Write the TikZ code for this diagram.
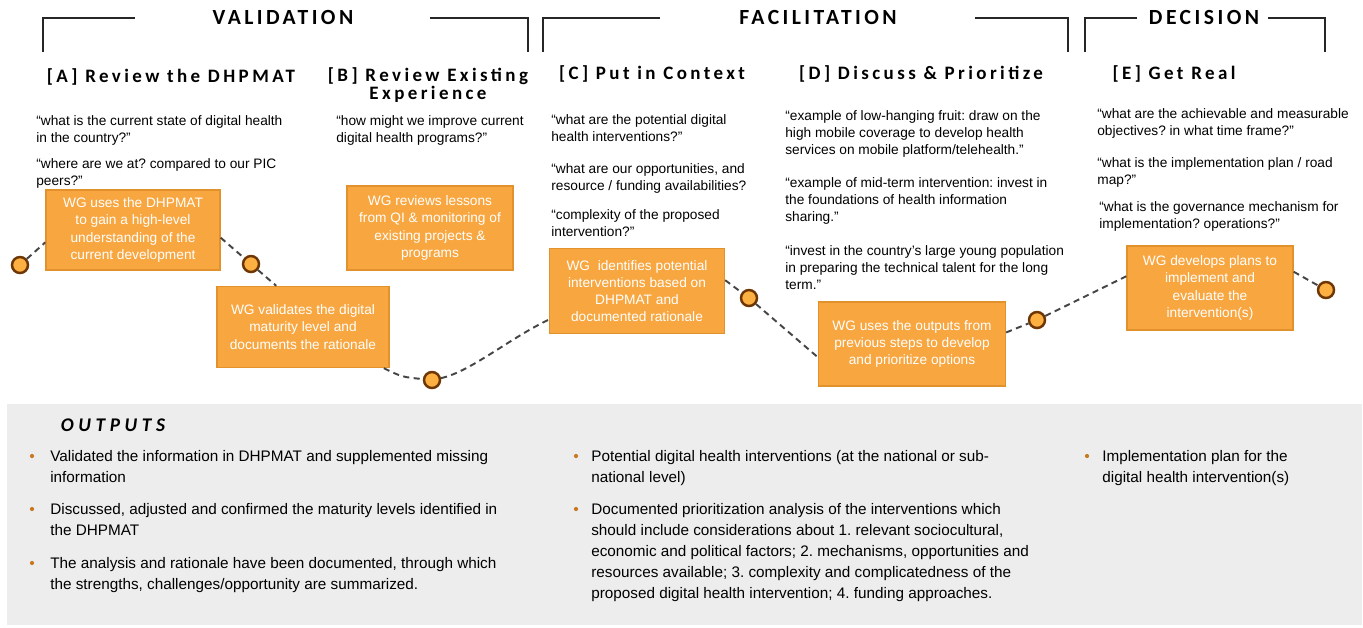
\documentclass[tikz,border=0pt]{standalone}
\usepackage{fontspec}
\setmainfont{Liberation Sans}
\newfontfamily\groupfont[LetterSpace=16]{Carlito}
\newfontfamily\stepfont[LetterSpace=18]{Carlito}
\newfontfamily\outfont[LetterSpace=24]{Carlito}
\frenchspacing

\definecolor{boxOrange}{HTML}{F8A63F}
\definecolor{boxEdge}{HTML}{E2922C}
\definecolor{dotFill}{HTML}{FBB041}
\definecolor{dotEdge}{HTML}{6E3604}
\definecolor{pathGrey}{HTML}{454545}
\definecolor{panelGrey}{HTML}{EDEDED}
\definecolor{bulletOrange}{HTML}{C9791F}

\begin{document}
\begin{tikzpicture}
[x=0.02cm,y=-0.02cm,%
  boxDecorate/.style={shape=rectangle,draw=boxEdge,fill=boxOrange,line width=0.8pt,
    text=white,align=center,inner sep=0pt,font={\fontsize{7.8}{9.8}\selectfont}},%
  dotDecorate/.style={shape=circle,minimum size=0.32cm,inner sep=0pt,
    draw=dotEdge,fill=dotFill,line width=1.4pt},%
  lineDecorate/.style={-,draw=pathGrey,line width=1.1pt,dash pattern=on 3.5pt off 2.5pt},%
  quoteDecorate/.style={anchor=north west,inner sep=0pt,align=left,
    font={\fontsize{7.8}{9.8}\selectfont}},%
  outputDecorate/.style={anchor=north west,inner sep=0pt,align=left,
    font={\fontsize{8.7}{11.9}\selectfont}},%
  groupDecorate/.style={inner sep=0pt,font={\groupfont\bfseries\fontsize{12.3}{14}\selectfont}},%
  stepDecorate/.style={inner sep=0pt,align=center,
    font={\stepfont\bfseries\fontsize{10.8}{10.4}\selectfont}},%
  bracketDecorate/.style={draw=black!85,line width=0.75pt}]
\useasboundingbox (0,0) rectangle (1363,627);

%% outputs panel
\fill[panelGrey] (7,404) rectangle (1362,625);

%% phases and their brackets
\node[groupDecorate] (validation) at (283,17) {VALIDATION};
\node[groupDecorate] (facilitation) at (818,17) {FACILITATION};
\node[groupDecorate] (decision) at (1204,17) {DECISION};
\draw[bracketDecorate] (43,52) |- (135,18);
\draw[bracketDecorate] (430,18) -| (528,52);
\draw[bracketDecorate] (543,52) |- (660,18);
\draw[bracketDecorate] (975,18) -| (1068,52);
\draw[bracketDecorate] (1085,52) |- (1137,18);
\draw[bracketDecorate] (1268,18) -| (1325,52);

%% steps
\node[stepDecorate] (stepA) at (171,77) {[A] Review the DHPMAT};
\node[stepDecorate] (stepB) at (428,85) {[B] Review Existing\\Experience};
\node[stepDecorate] (stepC) at (652,74) {[C] Put in Context};
\node[stepDecorate] (stepD) at (921,74) {[D] Discuss \& Prioritize};
\node[stepDecorate] (stepE) at (1174,74) {[E] Get Real};

%% guiding questions
\node[quoteDecorate] (qA1) at (36,115) {“what is the current state of digital health\\in the country?”};
\node[quoteDecorate] (qA2) at (36,158) {“where are we at? compared to our PIC\\peers?”};
\node[quoteDecorate] (qB1) at (336,115) {“how might we improve current\\digital health programs?”};
\node[quoteDecorate] (qC1) at (551,114) {“what are the potential digital\\health interventions?”};
\node[quoteDecorate] (qC2) at (551,163) {“what are our opportunities, and\\resource / funding availabilities?};
\node[quoteDecorate] (qC3) at (551,209) {“complexity of the proposed\\intervention?”};
\node[quoteDecorate] (qD1) at (785,110) {“example of low-hanging fruit: draw on the\\high mobile coverage to develop health\\services on mobile platform/telehealth.”};
\node[quoteDecorate] (qD2) at (785,177) {“example of mid-term intervention: invest in\\the foundations of health information\\sharing.”};
\node[quoteDecorate] (qD3) at (785,245) {“invest in the country’s large young population\\in preparing the technical talent for the long\\term.”};
\node[quoteDecorate] (qE1) at (1097,108) {“what are the achievable and measurable\\objectives? in what time frame?”};
\node[quoteDecorate] (qE2) at (1097,157) {“what is the implementation plan / road\\map?”};
\node[quoteDecorate] (qE3) at (1099,201) {“what is the governance mechanism for\\implementation? operations?”};

%% working group activities
\node[boxDecorate,minimum width=3.48cm,minimum height=1.60cm] (review) at (133,230)
  {WG uses the DHPMAT\\to gain a high-level\\understanding of the\\current development};
\node[boxDecorate,minimum width=3.32cm,minimum height=1.68cm] (lessons) at (430,228)
  {WG reviews lessons\\from QI \& monitoring of\\existing projects \&\\programs};
\node[boxDecorate,minimum width=3.44cm,minimum height=1.62cm] (validate) at (303,327)
  {WG validates the digital\\maturity level and\\documents the rationale};
\node[boxDecorate,minimum width=3.50cm,minimum height=1.70cm] (identify) at (637,291)
  {WG~ identifies potential\\interventions based on\\DHPMAT and\\documented rationale};
\node[boxDecorate,minimum width=3.74cm,minimum height=1.68cm] (develop) at (912,344)
  {WG uses the outputs from\\previous steps to develop\\and prioritize options};
\node[boxDecorate,minimum width=3.32cm,minimum height=1.68cm] (plan) at (1210,288)
  {WG develops plans to\\implement and\\evaluate the\\intervention(s)};

%% milestones
\foreach \nodename/\x/\y in {
  p1/20/265, p2/251/264, p3/432/380, p4/749/298, p5/1037/320, p6/1326/290}
{
  \node (\nodename) at (\x,\y) [dotDecorate] {};
}

%% dashed path
\path
\foreach \startnode/\endnode in {
  p1/review.188, review.-5/p2, p2/validate.123, identify.7/p4,
  p4/develop.188, develop.7/p5, p5/plan.172, plan.11/p6}
{
  (\startnode) edge[lineDecorate] (\endnode)
};
\draw[lineDecorate] (validate.-27) .. controls (402,377) .. (p3);
\draw[lineDecorate] (p3) .. controls (470,372) and (510,338) .. (identify.198);

%% outputs
\node[font={\outfont\bfseries\itshape\fontsize{11}{13}\selectfont}] (outputs) at (113,425) {OUTPUTS};
\foreach \x/\y in {32/456, 32/509, 32/563, 576/456, 576/509, 1087/456}
{
  \fill[bulletOrange] (\x,\y) circle[radius=1.2pt];
}
\node[outputDecorate] (outA1) at (50,450) {Validated the information in DHPMAT and supplemented missing\\information};
\node[outputDecorate] (outA2) at (50,503) {Discussed, adjusted and confirmed the maturity levels identified in\\the DHPMAT};
\node[outputDecorate] (outA3) at (50,557) {The analysis and rationale have been documented, through which\\the strengths, challenges/opportunity are summarized.};
\node[outputDecorate] (outB1) at (591,450) {Potential digital health interventions (at the national or sub-\\national level)};
\node[outputDecorate] (outB2) at (591,503) {Documented prioritization analysis of the interventions which\\should include considerations about 1. relevant sociocultural,\\economic and political factors; 2. mechanisms, opportunities and\\resources available; 3. complexity and complicatedness of the\\proposed digital health intervention; 4. funding approaches.};
\node[outputDecorate] (outC1) at (1102,450) {Implementation plan for the\\digital health intervention(s)};
\end{tikzpicture}
\end{document}
